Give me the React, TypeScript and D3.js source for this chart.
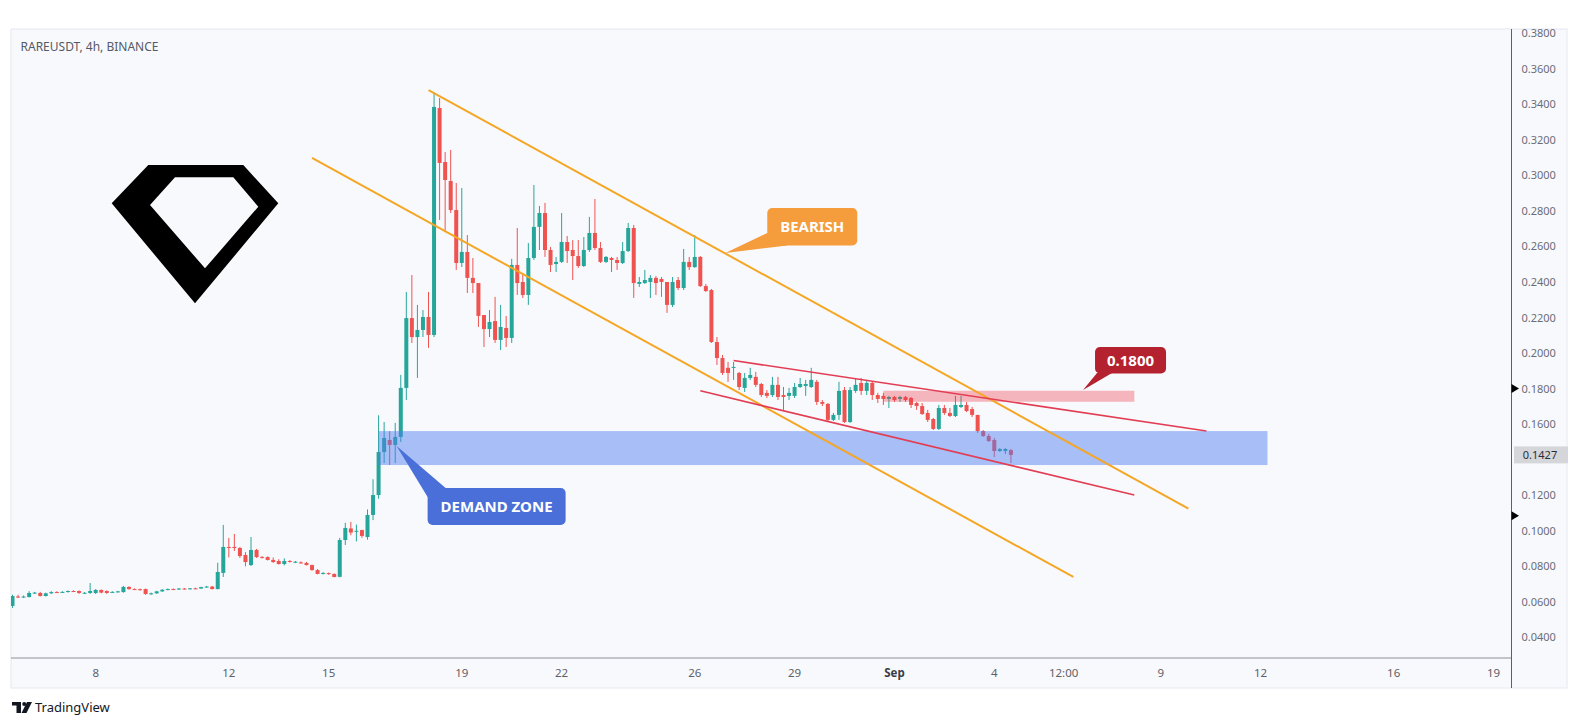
import React from "react";
import * as d3 from "d3";

const W = 1579;
const H = 727;

// 4h candles starting Aug 5 2023 12:00 UTC
const candleStart = Date.UTC(2023, 7, 5, 12);
const FOUR_H = 4 * 3600 * 1000;

const opens = [
  0.0577, 0.0630, 0.0627, 0.0627, 0.0650, 0.0650, 0.0633, 0.0648, 0.0655, 0.0654,
  0.0656, 0.0661, 0.0661, 0.0650, 0.0650, 0.0650, 0.0667, 0.0661, 0.0655, 0.0656,
  0.0655, 0.0684, 0.0672, 0.0671, 0.0672, 0.0646, 0.0648, 0.0659, 0.0668, 0.0672,
  0.0671, 0.0675, 0.0674, 0.0676, 0.0675, 0.0683, 0.0686, 0.0672, 0.0763, 0.0909,
  0.0909, 0.0903, 0.0864, 0.0807, 0.0892, 0.0852, 0.0852, 0.0836, 0.0830, 0.0813,
  0.0830, 0.0822, 0.0822, 0.0819, 0.0807, 0.0779, 0.0760, 0.0762, 0.0757, 0.0741,
  0.0948, 0.1013, 0.0995, 0.1004, 0.0965, 0.1089, 0.1201, 0.1443, 0.1511, 0.1483,
  0.1528, 0.1804, 0.2197, 0.2090, 0.2130, 0.2203, 0.2102, 0.3379, 0.3075, 0.2968,
  0.2805, 0.2507, 0.2569, 0.2423, 0.2394, 0.2214, 0.2135, 0.2180, 0.2074, 0.2141,
  0.2085, 0.2496, 0.2400, 0.2327, 0.2535, 0.2710, 0.2788, 0.2580, 0.2501, 0.2513,
  0.2625, 0.2580, 0.2546, 0.2490, 0.2580, 0.2676, 0.2591, 0.2513, 0.2535, 0.2524,
  0.2507, 0.2574, 0.2704, 0.2389, 0.2394, 0.2400, 0.2423, 0.2417, 0.2400, 0.2271,
  0.2411, 0.2366, 0.2513, 0.2484, 0.2541, 0.2377, 0.2355, 0.2062, 0.1972, 0.1917,
  0.1917, 0.1888, 0.1804, 0.1860, 0.1866, 0.1826, 0.1776, 0.1764, 0.1821, 0.1764,
  0.1759, 0.1759, 0.1809, 0.1815, 0.1809, 0.1838, 0.1725, 0.1714, 0.1624, 0.1652,
  0.1792, 0.1612, 0.1787, 0.1832, 0.1787, 0.1832, 0.1764, 0.1759, 0.1742, 0.1753,
  0.1742, 0.1753, 0.1747, 0.1719, 0.1702, 0.1663, 0.1629, 0.1573, 0.1691, 0.1663,
  0.1646, 0.1697, 0.1708, 0.1685, 0.1652, 0.1561, 0.1533, 0.1511, 0.1449, 0.1449,
  0.1454,
];

const highs = [
  0.0640, 0.0640, 0.0636, 0.0660, 0.0656, 0.0656, 0.0652, 0.0660, 0.0660, 0.0660,
  0.0664, 0.0665, 0.0665, 0.0655, 0.0706, 0.0672, 0.0670, 0.0665, 0.0660, 0.0662,
  0.0690, 0.0688, 0.0676, 0.0675, 0.0675, 0.0652, 0.0662, 0.0672, 0.0675, 0.0676,
  0.0678, 0.0678, 0.0678, 0.0680, 0.0685, 0.0690, 0.0690, 0.0820, 0.1033, 0.0960,
  0.0982, 0.0909, 0.0880, 0.0965, 0.0898, 0.0858, 0.0856, 0.0850, 0.0840, 0.0845,
  0.0835, 0.0830, 0.0828, 0.0825, 0.0810, 0.0785, 0.0768, 0.0765, 0.0760, 0.0960,
  0.1045, 0.1050, 0.1035, 0.1006, 0.1120, 0.1290, 0.1650, 0.1612, 0.1560, 0.1607,
  0.1877, 0.2344, 0.2439, 0.2271, 0.2242, 0.2344, 0.3469, 0.3435, 0.3131, 0.3143,
  0.2957, 0.2929, 0.2664, 0.2535, 0.2394, 0.2214, 0.2242, 0.2316, 0.2271, 0.2209,
  0.2530, 0.2704, 0.2451, 0.2619, 0.2946, 0.2828, 0.2845, 0.2597, 0.2541, 0.2788,
  0.2659, 0.2636, 0.2636, 0.2653, 0.2766, 0.2867, 0.2625, 0.2546, 0.2541, 0.2541,
  0.2625, 0.2732, 0.2721, 0.2428, 0.2468, 0.2439, 0.2434, 0.2428, 0.2400, 0.2428,
  0.2428, 0.2586, 0.2541, 0.2664, 0.2546, 0.2389, 0.2361, 0.2090, 0.1989, 0.1950,
  0.1950, 0.1894, 0.1888, 0.1917, 0.1894, 0.1832, 0.1792, 0.1866, 0.1866, 0.1809,
  0.1804, 0.1832, 0.1860, 0.1849, 0.1917, 0.1849, 0.1736, 0.1719, 0.1663, 0.1838,
  0.1809, 0.1809, 0.1854, 0.1860, 0.1849, 0.1838, 0.1776, 0.1776, 0.1759, 0.1759,
  0.1759, 0.1759, 0.1753, 0.1725, 0.1719, 0.1680, 0.1635, 0.1708, 0.1708, 0.1691,
  0.1759, 0.1759, 0.1725, 0.1697, 0.1652, 0.1567, 0.1545, 0.1522, 0.1466, 0.1466,
  0.1460,
];

const lows = [
  0.0566, 0.0622, 0.0622, 0.0625, 0.0645, 0.0630, 0.0630, 0.0645, 0.0650, 0.0650,
  0.0652, 0.0656, 0.0645, 0.0645, 0.0645, 0.0644, 0.0648, 0.0645, 0.0650, 0.0652,
  0.0652, 0.0668, 0.0668, 0.0664, 0.0640, 0.0640, 0.0645, 0.0656, 0.0665, 0.0668,
  0.0668, 0.0670, 0.0670, 0.0672, 0.0673, 0.0680, 0.0670, 0.0670, 0.0740, 0.0850,
  0.0886, 0.0847, 0.0800, 0.0802, 0.0847, 0.0845, 0.0833, 0.0819, 0.0810, 0.0805,
  0.0822, 0.0818, 0.0815, 0.0805, 0.0775, 0.0755, 0.0755, 0.0752, 0.0738, 0.0738,
  0.0920, 0.0975, 0.0940, 0.0960, 0.0950, 0.1060, 0.1180, 0.1381, 0.1370, 0.1381,
  0.1500, 0.1736, 0.2057, 0.1860, 0.2090, 0.2029, 0.2090, 0.2749, 0.2681, 0.2788,
  0.2468, 0.2484, 0.2338, 0.2338, 0.2147, 0.2034, 0.2090, 0.2057, 0.2017, 0.2034,
  0.2057, 0.2327, 0.2310, 0.2271, 0.2524, 0.2580, 0.2541, 0.2456, 0.2456, 0.2507,
  0.2507, 0.2411, 0.2479, 0.2484, 0.2569, 0.2580, 0.2507, 0.2507, 0.2456, 0.2468,
  0.2501, 0.2569, 0.2310, 0.2372, 0.2389, 0.2310, 0.2327, 0.2316, 0.2226, 0.2259,
  0.2355, 0.2355, 0.2468, 0.2479, 0.2372, 0.2344, 0.2057, 0.1933, 0.1877, 0.1838,
  0.1849, 0.1792, 0.1781, 0.1849, 0.1809, 0.1753, 0.1747, 0.1753, 0.1736, 0.1680,
  0.1736, 0.1747, 0.1804, 0.1759, 0.1804, 0.1708, 0.1702, 0.1618, 0.1618, 0.1624,
  0.1607, 0.1607, 0.1776, 0.1764, 0.1764, 0.1736, 0.1719, 0.1708, 0.1691, 0.1725,
  0.1725, 0.1725, 0.1691, 0.1680, 0.1652, 0.1612, 0.1567, 0.1567, 0.1652, 0.1640,
  0.1640, 0.1691, 0.1668, 0.1640, 0.1550, 0.1528, 0.1500, 0.1415, 0.1443, 0.1432,
  0.1381,
];

const closes = [
  0.0633, 0.0627, 0.0630, 0.0650, 0.0652, 0.0633, 0.0648, 0.0655, 0.0654, 0.0656,
  0.0661, 0.0660, 0.0650, 0.0651, 0.0661, 0.0667, 0.0652, 0.0650, 0.0656, 0.0659,
  0.0684, 0.0672, 0.0671, 0.0667, 0.0644, 0.0648, 0.0659, 0.0668, 0.0672, 0.0671,
  0.0675, 0.0674, 0.0676, 0.0675, 0.0683, 0.0686, 0.0672, 0.0768, 0.0909, 0.0905,
  0.0903, 0.0858, 0.0824, 0.0892, 0.0852, 0.0847, 0.0836, 0.0824, 0.0813, 0.0830,
  0.0824, 0.0826, 0.0819, 0.0807, 0.0779, 0.0757, 0.0762, 0.0757, 0.0740, 0.0948,
  0.1016, 0.0990, 0.1000, 0.0971, 0.1089, 0.1201, 0.1443, 0.1522, 0.1483, 0.1528,
  0.1804, 0.2197, 0.2090, 0.2130, 0.2203, 0.2102, 0.3385, 0.3070, 0.2974, 0.2805,
  0.2507, 0.2569, 0.2423, 0.2394, 0.2209, 0.2135, 0.2175, 0.2074, 0.2147, 0.2085,
  0.2496, 0.2394, 0.2327, 0.2535, 0.2710, 0.2788, 0.2580, 0.2496, 0.2513, 0.2625,
  0.2574, 0.2546, 0.2490, 0.2580, 0.2676, 0.2591, 0.2513, 0.2541, 0.2524, 0.2507,
  0.2574, 0.2704, 0.2394, 0.2400, 0.2411, 0.2423, 0.2394, 0.2400, 0.2271, 0.2400,
  0.2366, 0.2513, 0.2484, 0.2541, 0.2377, 0.2349, 0.2062, 0.1972, 0.1888, 0.1888,
  0.1922, 0.1809, 0.1860, 0.1877, 0.1821, 0.1764, 0.1759, 0.1821, 0.1753, 0.1753,
  0.1776, 0.1809, 0.1826, 0.1826, 0.1849, 0.1725, 0.1714, 0.1624, 0.1652, 0.1787,
  0.1612, 0.1792, 0.1821, 0.1787, 0.1832, 0.1764, 0.1742, 0.1742, 0.1753, 0.1736,
  0.1753, 0.1736, 0.1708, 0.1702, 0.1657, 0.1624, 0.1573, 0.1691, 0.1663, 0.1646,
  0.1708, 0.1708, 0.1674, 0.1652, 0.1561, 0.1533, 0.1505, 0.1449, 0.1460, 0.1460,
  0.1427,
];

const priceTicks = [
  0.38, 0.36, 0.34, 0.32, 0.30, 0.28, 0.26, 0.24, 0.22, 0.20, 0.18, 0.16,
  0.12, 0.10, 0.08, 0.06, 0.04,
];
const lastPrice = 0.1427;
const axisMarkers = [0.18, 0.1085];

const timeTickDates = [
  Date.UTC(2023, 7, 8), Date.UTC(2023, 7, 12), Date.UTC(2023, 7, 15),
  Date.UTC(2023, 7, 19), Date.UTC(2023, 7, 22), Date.UTC(2023, 7, 26),
  Date.UTC(2023, 7, 29), Date.UTC(2023, 8, 1), Date.UTC(2023, 8, 4),
  Date.UTC(2023, 8, 6, 2), Date.UTC(2023, 8, 9), Date.UTC(2023, 8, 12),
  Date.UTC(2023, 8, 16), Date.UTC(2023, 8, 19),
];
const timeTickLabels = [
  "8", "12", "15", "19", "22", "26", "29", "Sep", "4", "12:00", "9", "12", "16", "19",
];

// trend lines: [t1, p1, t2, p2]
const orangeLines = [
  [Date.UTC(2023, 7, 18, 0), 0.3480, Date.UTC(2023, 8, 9, 20), 0.1125],
  [Date.UTC(2023, 7, 14, 12), 0.3098, Date.UTC(2023, 8, 6, 9), 0.0740],
];
const redLines = [
  [Date.UTC(2023, 7, 27, 4), 0.1958, Date.UTC(2023, 8, 10, 9), 0.1561],
  [Date.UTC(2023, 7, 26, 4), 0.1788, Date.UTC(2023, 8, 8, 5), 0.1201],
];
const demandZone = [Date.UTC(2023, 7, 16, 12), 0.1561, Date.UTC(2023, 8, 12, 5), 0.1370];
const resistanceZone = [Date.UTC(2023, 7, 31, 16), 0.1788, Date.UTC(2023, 8, 8, 5), 0.1726];

const labelTexts = ["BEARISH", "0.1800", "DEMAND ZONE"];
const labelTips = [
  [Date.UTC(2023, 7, 26, 22), 0.2563],
  [Date.UTC(2023, 8, 6, 16), 0.1792],
  [Date.UTC(2023, 7, 17, 1), 0.1477],
];

export default function App() {
  const plotL = 11, plotR = 1511.5, plotT = 29, plotB = 658;
  const x = d3
    .scaleUtc()
    .domain([new Date(Date.UTC(2023, 7, 8)), new Date(Date.UTC(2023, 8, 19))])
    .range([95.7, 1493.5]);
  const y = d3.scaleLinear().domain([0.04, 0.38]).range([637.4, 33.2]);

  const candles = opens.map((o, i) => {
    const c = closes[i];
    const h = Math.max(highs[i], o, c);
    const l = Math.min(lows[i], o, c);
    return { t: new Date(candleStart + i * FOUR_H), o, h, l, c };
  });

  const GREEN = "#26a69a";
  const RED = "#ef5350";
  const bw = 4;

  const labelStyles = [
    { fill: "#f59c3c", box: [42, -45, 90, 37.5], base: [[42, -20], [62, -7.5]] },
    { fill: "#b4222f", box: [12, -43, 71, 26.5], base: [[14, -17], [29, -17]] },
    { fill: "#4a6fd8", box: [31, 42, 138, 37], base: [[31, 51], [49, 42]] },
  ];

  const font = "'Noto Sans', 'Open Sans', sans-serif";

  return (
    <svg
      width={W}
      height={H}
      style={{ position: "absolute", left: 0, top: 0, background: "#ffffff" }}
    >
      <defs>
        <clipPath id="plotClip">
          <rect x={plotL} y={plotT} width={plotR - plotL} height={plotB - plotT} />
        </clipPath>
      </defs>
      <rect x={11} y={29} width={1556} height={659} fill="#f8f9fd" stroke="#e6e8ee" />

      <g clipPath="url(#plotClip)">
        {candles.map((d, i) => {
          const cx = x(d.t);
          const up = d.c >= d.o;
          const col = up ? GREEN : RED;
          const yt = y(Math.max(d.o, d.c));
          const yb = y(Math.min(d.o, d.c));
          return (
            <g key={i}>
              <line x1={cx} x2={cx} y1={y(d.h)} y2={y(d.l)} stroke={col} strokeWidth={1} />
              <rect x={cx - bw / 2} y={yt} width={bw} height={Math.max(1, yb - yt)} fill={col} />
            </g>
          );
        })}

        {/* zones */}
        <rect
          x={x(new Date(demandZone[0]))}
          y={y(demandZone[1])}
          width={x(new Date(demandZone[2])) - x(new Date(demandZone[0]))}
          height={y(demandZone[3]) - y(demandZone[1])}
          fill="#4f7df0"
          opacity={0.48}
        />
        <rect
          x={x(new Date(resistanceZone[0]))}
          y={y(resistanceZone[1])}
          width={x(new Date(resistanceZone[2])) - x(new Date(resistanceZone[0]))}
          height={y(resistanceZone[3]) - y(resistanceZone[1])}
          fill="#f23645"
          opacity={0.35}
        />

        {orangeLines.map((l, i) => (
          <line
            key={"o" + i}
            x1={x(new Date(l[0]))}
            y1={y(l[1])}
            x2={x(new Date(l[2]))}
            y2={y(l[3])}
            stroke="#f5a623"
            strokeWidth={2}
          />
        ))}
        {redLines.map((l, i) => (
          <line
            key={"r" + i}
            x1={x(new Date(l[0]))}
            y1={y(l[1])}
            x2={x(new Date(l[2]))}
            y2={y(l[3])}
            stroke="#e23d52"
            strokeWidth={1.6}
          />
        ))}

        {/* labels */}
        {labelTexts.map((txt, i) => {
          const tx = x(new Date(labelTips[i][0]));
          const ty = y(labelTips[i][1]);
          const s = labelStyles[i];
          const [bx, by, bwid, bh] = s.box;
          return (
            <g key={"lab" + i}>
              <polygon
                points={`${tx},${ty} ${tx + s.base[0][0]},${ty + s.base[0][1]} ${tx + s.base[1][0]},${ty + s.base[1][1]}`}
                fill={s.fill}
              />
              <rect x={tx + bx} y={ty + by} width={bwid} height={bh} rx={5} fill={s.fill} />
              <text
                x={tx + bx + bwid / 2}
                y={ty + by + bh / 2 + 5.5}
                textAnchor="middle"
                fontFamily={font}
                fontWeight={700}
                fontSize={15}
                fill="#ffffff"
              >
                {txt}
              </text>
            </g>
          );
        })}

        {/* diamond logo */}
        <path
          d="M148.3,165 L243.3,165 L278.3,203.3 L195,303.3 L111.7,203.3 Z M175,177.3 L150,205 L205,268.3 L258.3,206.7 L233.3,177.3 Z"
          fill="#000000"
          fillRule="evenodd"
        />
      </g>

      <text x={20.5} y={51} fontFamily={font} fontSize={12} fill="#555a63">
        RAREUSDT, 4h, BINANCE
      </text>

      {/* axes lines */}
      <line x1={plotL} x2={plotR} y1={plotB} y2={plotB} stroke="#8c8f96" strokeWidth={1} />
      <line x1={plotR} x2={plotR} y1={plotT} y2={688} stroke="#5d6068" strokeWidth={1} />

      {priceTicks.map((v) => (
        <text
          key={v}
          x={1538.7}
          y={y(v) + 4}
          textAnchor="middle"
          fontFamily={font}
          fontSize={11}
          fill="#6a6d78"
        >
          {v.toFixed(4)}
        </text>
      ))}
      <rect x={1514} y={y(lastPrice) - 8.5} width={54} height={17} fill="#d5d6da" />
      <text
        x={1540}
        y={y(lastPrice) + 4}
        textAnchor="middle"
        fontFamily={font}
        fontSize={11}
        fill="#2a2e39"
      >
        {lastPrice.toFixed(4)}
      </text>
      {axisMarkers.map((v) => (
        <polygon
          key={"m" + v}
          points={`${plotR},${y(v) - 4.5} ${plotR + 7.5},${y(v)} ${plotR},${y(v) + 4.5}`}
          fill="#000000"
        />
      ))}

      {timeTickDates.map((t, i) => (
        <text
          key={"t" + i}
          x={x(new Date(t))}
          y={677}
          textAnchor="middle"
          fontFamily={font}
          fontSize={11.5}
          fontWeight={timeTickLabels[i] === "Sep" ? 700 : 400}
          fill={timeTickLabels[i] === "Sep" ? "#3a3d45" : "#5d6068"}
        >
          {timeTickLabels[i]}
        </text>
      ))}

      {/* TradingView logo */}
      <g fill="#131722">
        <rect x={12} y={702} width={9} height={3.5} />
        <rect x={16.5} y={702} width={4.5} height={11} />
        <circle cx={24.2} cy={704} r={2} />
        <polygon points="27,702 32,702 26.5,713 21.5,713" />
      </g>
      <text x={35} y={712} fontFamily={font} fontSize={13} fill="#131722">
        TradingView
      </text>
    </svg>
  );
}
